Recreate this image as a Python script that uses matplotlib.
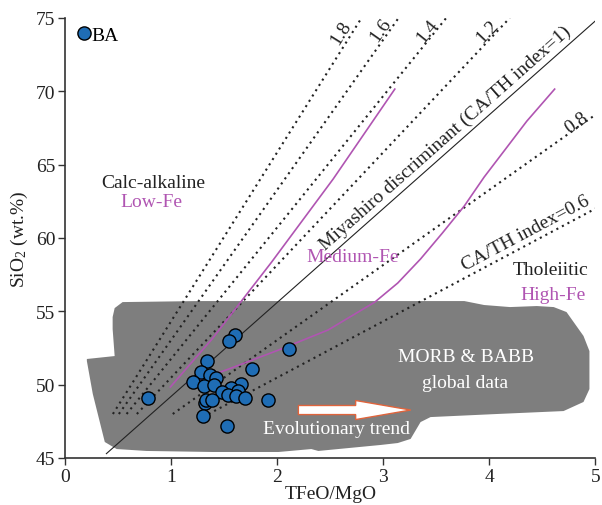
import numpy as np
import matplotlib
matplotlib.use('Agg')
import matplotlib.pyplot as plt
from matplotlib.patches import Polygon, FancyArrow
from matplotlib.lines import Line2D

plt.rcParams['font.family'] = ['Liberation Serif', 'DejaVu Serif']
plt.rcParams['mathtext.fontset'] = 'custom'
plt.rcParams['mathtext.rm'] = 'Liberation Serif'
plt.rcParams['mathtext.it'] = 'Liberation Serif:italic'

# ---- data ----
# hidden point first (drawn behind)
ba_x = [1.320, 1.601, 1.545, 2.116, 1.339, 1.760, 1.283, 1.367, 1.423, 1.208, 1.311, 1.404,
        1.657, 1.564, 1.629, 1.479, 1.536, 1.610, 1.695, 1.330, 1.386, 1.910, 0.787, 1.301, 1.526]
ba_y = [48.75, 53.38, 52.98, 52.43, 51.61, 51.07, 50.86, 50.66, 50.45, 50.18, 49.91, 49.98,
        50.04, 49.77, 49.57, 49.50, 49.29, 49.23, 49.09, 48.95, 48.95, 48.95, 49.09, 47.86, 47.18]

index_values = [1.8, 1.6, 1.4, 1.2, 0.8, 0.6]
index_labels = ['1.8', '1.6', '1.4', '1.2', '0.8', 'CA/TH index=0.6']
index_label_x = [2.603, 2.978, 3.418, 3.980, 4.822, 4.345]
index_label_y = [74.04, 74.24, 74.10, 74.10, 67.90, 60.34]
miyashiro_slope = 6.4
miyashiro_intercept = 42.8

lowmed_x = [0.993, 1.386, 1.948, 2.528, 3.109]
lowmed_y = [49.84, 53.11, 58.36, 64.02, 70.15]
medhigh_x = [1.152, 1.545, 2.013, 2.481, 2.921, 3.137, 3.352, 3.558, 3.764, 3.951, 4.139, 4.354, 4.616]
medhigh_y = [50.04, 51.07, 52.36, 53.73, 55.63, 56.93, 58.57, 60.34, 62.18, 64.15, 65.93, 67.97, 70.15]

morb_x = [0.449, 0.468, 0.543, 1.264, 2.481, 3.764, 3.951, 4.195, 4.448, 4.607, 4.728, 4.888,
          4.944, 4.944, 4.888, 4.700, 4.073, 3.446, 3.352, 3.258, 3.137, 2.978, 2.388, 2.322,
          2.013, 1.386, 0.768, 0.487, 0.375, 0.328, 0.262, 0.206, 0.206, 0.468, 0.449]
morb_y = [54.61, 55.22, 55.63, 55.70, 55.70, 55.70, 55.43, 55.29, 55.36, 55.29, 54.95, 53.32,
          52.29, 49.70, 48.82, 48.20, 48.00, 47.79, 47.45, 46.30, 46.02, 45.89, 45.48, 45.61,
          45.41, 45.41, 45.48, 45.61, 46.09, 47.45, 49.36, 51.61, 51.75, 51.95, 53.79]

x_ticks = [0, 1, 2, 3, 4, 5]
y_ticks = [45, 50, 55, 60, 65, 70, 75]

PURPLE = '#b055b2'
BLUE = '#1f6db5'
GRAY = '#7e7e7e'
TXT = '#222222'
FS = 14

fig = plt.figure(figsize=(6.02, 5.06), dpi=100)
ax = fig.add_axes([0.108, 0.0929, 0.881, 0.8696])
ax.set_xlim(0, 5)
ax.set_ylim(45, 75)

def pix_angle(slope):
    p1 = ax.transData.transform((1, 50))
    p2 = ax.transData.transform((2, 50 + slope))
    return np.degrees(np.arctan2(p2[1] - p1[1], p2[0] - p1[0]))

# MORB field
ax.add_patch(Polygon(np.column_stack([morb_x, morb_y]), closed=True,
                     facecolor=GRAY, edgecolor='none', zorder=1))

# CA/TH index dotted lines
for k in index_values:
    s = miyashiro_slope * k
    x0 = (48.0 - miyashiro_intercept) / s
    x1 = min(5.0, (75.0 - miyashiro_intercept) / s)
    xs = np.array([x0, x1])
    ax.plot(xs, miyashiro_intercept + s * xs, color=TXT, lw=1.5,
            linestyle=(0, (1, 2.0)), zorder=2)

# Miyashiro line
xs = np.array([0.39, 5.0])
ax.plot(xs, miyashiro_intercept + miyashiro_slope * xs, color=TXT, lw=0.8, zorder=2)

# Arculus boundaries
ax.plot(lowmed_x, lowmed_y, color=PURPLE, lw=1.2, zorder=3)
ax.plot(medhigh_x, medhigh_y, color=PURPLE, lw=1.2, zorder=3)

# data points
ax.plot(ba_x, ba_y, 'o', ms=9.5, mfc=BLUE, mec='black', mew=1.0, zorder=5)

# index labels
for k, lab, lx, ly in zip(index_values, index_labels, index_label_x, index_label_y):
    ax.text(lx, ly, lab, rotation=pix_angle(miyashiro_slope * k), rotation_mode='anchor',
            ha='center', va='center', fontsize=FS, color=TXT, zorder=6)

ax.text(3.586, 66.88, 'Miyashiro discriminant (CA/TH index=1)',
        rotation=pix_angle(miyashiro_slope), rotation_mode='anchor',
        ha='center', va='center', fontsize=FS, color=TXT, zorder=6)

ax.text(0.833, 63.75, 'Calc-alkaline', ha='center', va='center', fontsize=FS, color=TXT)
ax.text(0.815, 62.52, 'Low-Fe', ha='center', va='center', fontsize=FS, color=PURPLE)
ax.text(2.715, 58.77, 'Medium-Fe', ha='center', va='center', fontsize=FS, color=PURPLE)
ax.text(4.579, 57.88, 'Tholeiitic', ha='center', va='center', fontsize=FS, color=TXT)
ax.text(4.597, 56.18, 'High-Fe', ha='center', va='center', fontsize=FS, color=PURPLE)
ax.text(3.783, 51.95, 'MORB & BABB', ha='center', va='center', fontsize=FS, color='white', zorder=6)
ax.text(3.773, 50.18, 'global data', ha='center', va='center', fontsize=FS, color='white', zorder=6)
ax.text(2.556, 46.98, 'Evolutionary trend', ha='center', va='center', fontsize=FS, color='white', zorder=6)

# evolutionary arrow
ax.add_patch(FancyArrow(2.2, 48.27, 1.06, 0.0, width=0.62, head_width=1.3,
                        head_length=0.52, length_includes_head=True,
                        facecolor='white', edgecolor='#e0643c', lw=1.0, zorder=6))

# legend
handle = Line2D([], [], marker='o', ls='none', ms=9.5, mfc=BLUE, mec='black', mew=1.0)
ax.legend([handle], ['BA'], loc='upper left', bbox_to_anchor=(0.012, 0.998), frameon=False,
          handlelength=0.5, handletextpad=0.15, borderaxespad=0.0, fontsize=14)

# axes styling
for side in ['top', 'right']:
    ax.spines[side].set_visible(False)
for side in ['left', 'bottom']:
    ax.spines[side].set_color('#333333')
    ax.spines[side].set_linewidth(1.2)
ax.set_xticks(x_ticks)
ax.set_yticks(y_ticks)
ax.tick_params(direction='out', length=5, width=1.0, colors='#333333', labelsize=FS,
               labelcolor=TXT, pad=2)
ax.set_xlabel('TFeO/MgO', fontsize=FS, color=TXT, labelpad=0)
ax.set_ylabel('SiO$_2$ (wt.%)', fontsize=FS, color=TXT, labelpad=4)

fig.savefig('out.png', dpi=100)
